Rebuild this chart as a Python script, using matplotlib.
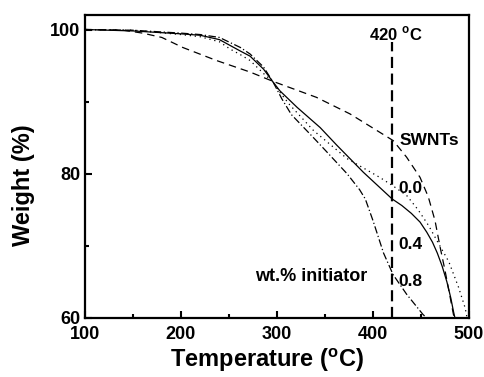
import matplotlib
matplotlib.use('Agg')
import matplotlib.pyplot as plt
from matplotlib.ticker import MultipleLocator

plt.rcParams['font.family'] = ['Liberation Sans', 'DejaVu Sans']
plt.rcParams['font.weight'] = 'bold'
plt.rcParams['mathtext.fontset'] = 'custom'
plt.rcParams['mathtext.rm'] = 'Liberation Sans:bold'
plt.rcParams['mathtext.bf'] = 'Liberation Sans:bold'

# TGA curves
t_swnt = [100, 140, 160, 180, 202, 237, 272, 296, 341, 376, 404, 421, 435, 449, 457.6, 464.6, 469.8, 475, 480.2, 484.5]
w_swnt = [100, 99.9, 99.5, 98.9, 97.5, 95.7, 94.1, 92.8, 90.6, 88.3, 86.0, 84.6, 82.3, 79.5, 76.8, 73.5, 69.9, 66.6, 63.0, 60]

t_00 = [100, 150, 200, 220, 240, 251, 262, 272, 286, 296, 303, 313, 338, 373, 407, 421, 435, 447, 458, 468, 479, 489, 496, 498]
w_00 = [100, 99.9, 99.3, 99.0, 98.3, 97.3, 96.5, 95.7, 93.9, 92.7, 91.3, 89.6, 86.0, 82.1, 79.5, 78.3, 77.0, 75.0, 72.8, 70.4, 67.8, 64.3, 61.4, 60]

t_04 = [100, 150, 200, 220, 240, 251, 262, 272, 286, 296, 303, 321, 345, 362, 390, 420, 430, 440, 449, 456, 462, 467, 472, 477, 481, 484, 485.4]
w_04 = [100, 99.8, 99.4, 99.2, 98.6, 97.8, 97.0, 96.3, 94.5, 92.7, 91.5, 89.2, 86.4, 84.0, 80.2, 76.5, 75.6, 74.5, 73.3, 71.9, 70.5, 69.0, 67.2, 65.0, 62.8, 60.8, 60]

t_08 = [100, 150, 200, 220, 240, 251, 262, 272, 286, 296, 305, 315, 338, 350, 373, 386, 392, 400, 411, 421, 435, 452, 456]
w_08 = [100, 99.9, 99.5, 99.3, 98.9, 98.2, 97.5, 96.6, 94.8, 92.7, 90.4, 88.2, 85.0, 83.3, 80.0, 77.8, 76.5, 73.5, 69.0, 66.0, 63.3, 60.5, 60]

t_mark = 420

fig = plt.figure(figsize=(4.84, 3.77), dpi=100)
ax = fig.add_axes([0.1756, 0.1565, 0.7934, 0.8035])

lw = 0.9
ax.plot(t_swnt, w_swnt, color='k', lw=lw, dashes=(6, 4))
ax.plot(t_00, w_00, color='k', lw=lw, linestyle=(0, (1, 3)))
ax.plot(t_04, w_04, color='k', lw=lw)
ax.plot(t_08, w_08, color='k', lw=lw, dashes=(6, 2, 1, 2))
ax.plot([t_mark, t_mark], [60, 98.2], color='k', lw=1.6, dashes=(5, 2.5))

ax.text(t_mark + 4, 99.4, r'420 $^{\rm o}$C', ha='center', va='center', fontsize=12)
ax.text(428, 84.6, 'SWNTs', ha='left', va='center', fontsize=12.5)
ax.text(426, 78.0, '0.0', ha='left', va='center', fontsize=12.5)
ax.text(426, 70.2, '0.4', ha='left', va='center', fontsize=12.5)
ax.text(426, 65.0, '0.8', ha='left', va='center', fontsize=12.5)
ax.text(277, 65.7, 'wt.% initiator', ha='left', va='center', fontsize=13)

ax.set_xlim(100, 500)
ax.set_ylim(60, 102)
ax.xaxis.set_major_locator(MultipleLocator(100))
ax.xaxis.set_minor_locator(MultipleLocator(50))
ax.yaxis.set_major_locator(MultipleLocator(20))
ax.yaxis.set_minor_locator(MultipleLocator(10))
ax.tick_params(which='both', direction='in', width=1.5, labelsize=13)
ax.tick_params(which='major', length=5)
ax.tick_params(which='minor', length=3)
ax.tick_params(axis='x', pad=6)
for s in ax.spines.values():
    s.set_linewidth(1.6)

ax.set_xlabel(r'Temperature ($^{\rm o}$C)', fontsize=17, fontweight='bold')
ax.set_ylabel('Weight (%)', fontsize=17, fontweight='bold')
ax.xaxis.set_label_coords(0.475, -0.092)
ax.yaxis.set_label_coords(-0.13, 0.44)

fig.savefig('out.png', dpi=100)
